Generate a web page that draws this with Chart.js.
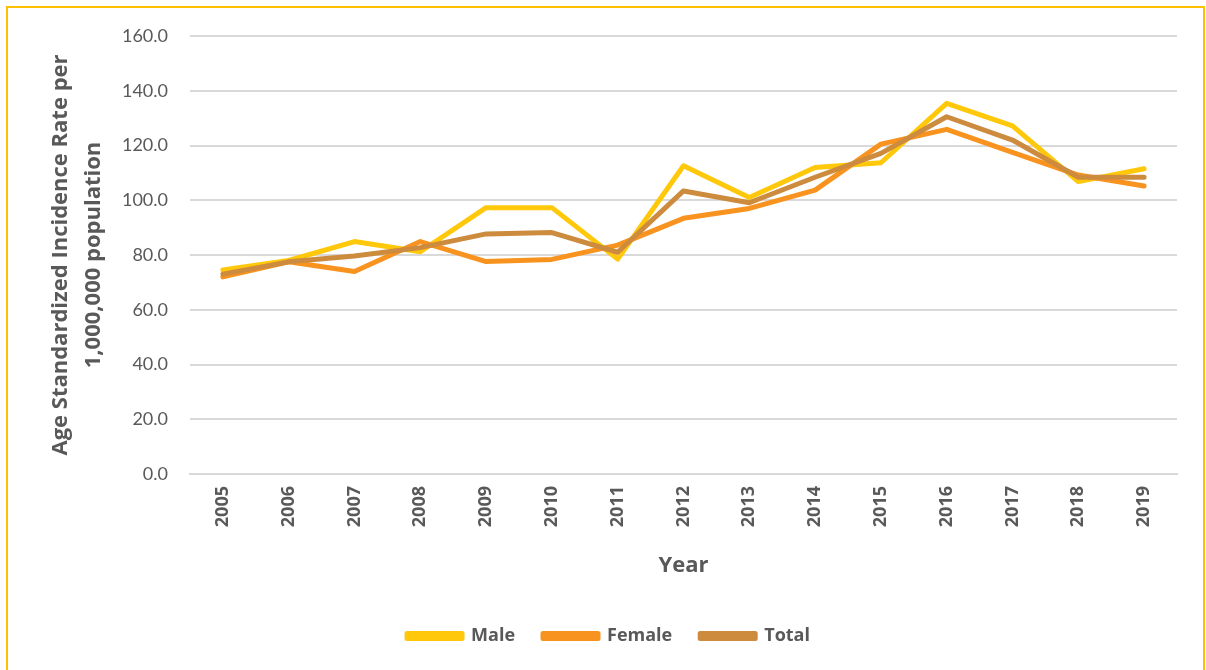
<!DOCTYPE html>
<html>
<head>
<meta charset="utf-8">
<title>Age Standardized Incidence Rate</title>
<script src="https://cdn.jsdelivr.net/npm/chart.js@4/dist/chart.umd.min.js"></script>
<style>
    html, body { margin: 0; padding: 0; background: #fff; overflow: hidden; }
    #wrap { position: relative; width: 1206px; height: 670px; }
    #frame {
        position: absolute; left: 6px; top: 6px; width: 1195px; height: 700px;
        border: 2px solid #FFC000; pointer-events: none;
    }
    canvas { position: absolute; left: 0; top: 0; }
</style>
</head>
<body>
<div id="wrap">
    <canvas id="rateChart" width="1206" height="670"></canvas>
    <div id="frame"></div>
</div>
<script>
// Chart data
const years = ['2005', '2006', '2007', '2008', '2009', '2010', '2011', '2012',
               '2013', '2014', '2015', '2016', '2017', '2018', '2019'];
const maleRate   = [74.5, 78.0, 84.9, 81.2, 97.3, 97.3, 78.5, 112.6, 101.0, 112.0, 113.7, 135.4, 127.2, 106.8, 111.5];
const femaleRate = [72.0, 77.5, 74.0, 84.9, 77.6, 78.4, 83.6, 93.4, 97.0, 103.7, 120.5, 125.9, 117.5, 109.2, 105.2];
const totalRate  = [73.0, 77.5, 79.6, 82.7, 87.7, 88.2, 81.0, 103.4, 99.1, 108.4, 117.1, 130.5, 122.0, 108.4, 108.4];
const yTicks = [0, 20, 40, 60, 80, 100, 120, 140, 160];

const textGray = '#595959';
const tickFont = 'Lato, sans-serif';
const boldFont = '"Open Sans", sans-serif';

function lineSet(label, values, color, order) {
    return {
        label: label,
        data: values,
        borderColor: color,
        backgroundColor: color,
        borderWidth: 5,
        tension: 0,
        pointRadius: 0,
        borderCapStyle: 'round',
        borderJoinStyle: 'round',
        fill: false,
        order: order
    };
}

const ctx = document.getElementById('rateChart').getContext('2d');
new Chart(ctx, {
    type: 'line',
    data: {
        labels: years,
        datasets: [
            lineSet('Male', maleRate, '#FFC80A', 3),
            lineSet('Female', femaleRate, '#F7931E', 2),
            lineSet('Total', totalRate, '#CD8B3E', 1)
        ]
    },
    options: {
        responsive: false,
        animation: false,
        layout: {
            padding: { left: 40, right: 29, top: 36, bottom: 15 }
        },
        plugins: {
            legend: {
                position: 'bottom',
                labels: {
                    color: textGray,
                    boxWidth: 55,
                    boxHeight: 5,
                    padding: 28,
                    font: { family: boldFont, size: 18, weight: 'bold' },
                    sort: (a, b) => a.datasetIndex - b.datasetIndex
                }
            },
            tooltip: { enabled: false }
        },
        scales: {
            x: {
                offset: true,
                grid: { display: false, drawTicks: false },
                border: { display: true, color: '#d9d9d9', width: 2 },
                ticks: {
                    color: textGray,
                    maxRotation: 90,
                    minRotation: 90,
                    padding: 12,
                    font: { family: boldFont, size: 18, weight: 'bold' }
                },
                title: {
                    display: true,
                    text: 'Year',
                    color: textGray,
                    font: { family: boldFont, size: 22, weight: 'bold' },
                    padding: { top: 0, bottom: 20 }
                },
                afterFit: function(scale) {
                    scale.height = 125;
                }
            },
            y: {
                min: 0,
                max: 160,
                afterBuildTicks: function(scale) {
                    scale.ticks = yTicks.map(v => ({ value: v }));
                },
                grid: { color: '#d9d9d9', lineWidth: 2, drawTicks: false },
                border: { display: false },
                ticks: {
                    color: textGray,
                    padding: 22,
                    font: { family: tickFont, size: 18 },
                    callback: function(value) {
                        return value.toFixed(1);
                    }
                },
                title: {
                    display: true,
                    text: ['Age Standardized Incidence Rate per', '1,000,000 population'],
                    color: textGray,
                    font: { family: boldFont, size: 22, weight: 'bold', lineHeight: 1.5 },
                    padding: { top: 4, bottom: 0 }
                },
                afterFit: function(scale) {
                    scale.width = 150;
                }
            }
        }
    }
});
</script>
</body>
</html>
